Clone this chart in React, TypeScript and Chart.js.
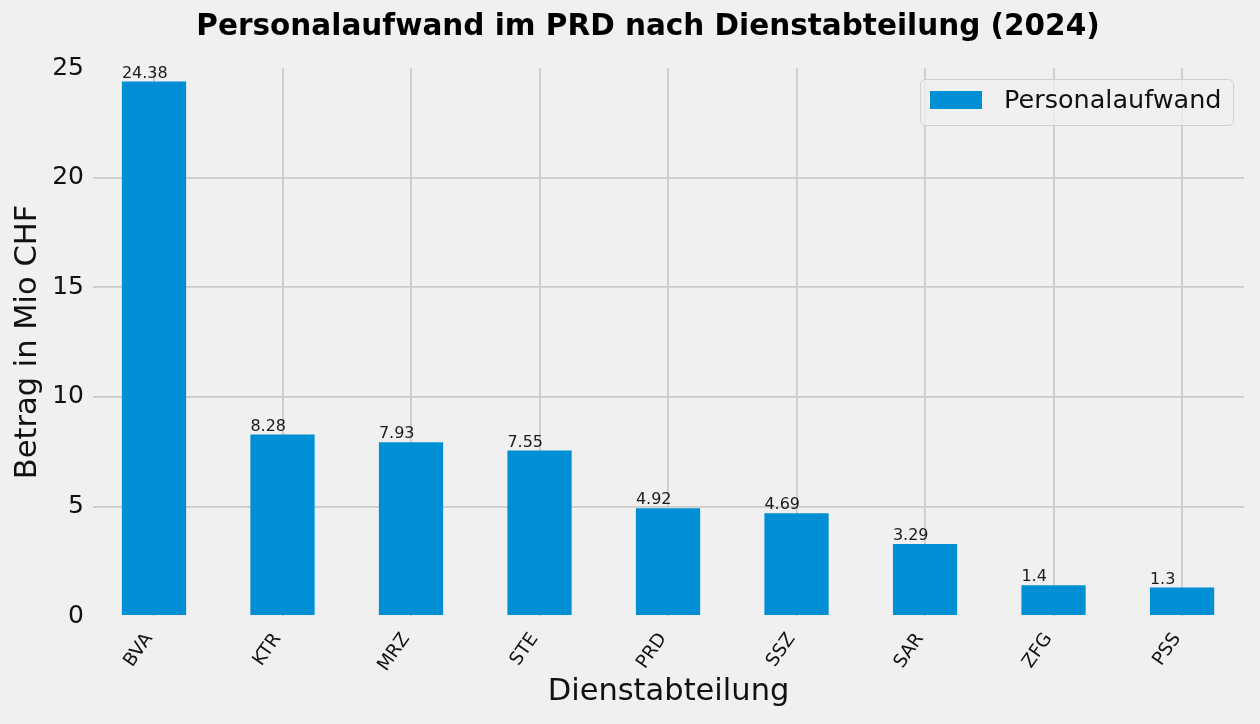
import React, { useEffect, useRef } from 'react';
import { Chart, registerables } from 'chart.js';

Chart.register(...registerables);

const categories = ['BVA', 'KTR', 'MRZ', 'STE', 'PRD', 'SSZ', 'SAR', 'ZFG', 'PSS'];
const values = [24.38, 8.28, 7.93, 7.55, 4.92, 4.69, 3.29, 1.4, 1.3];
const yTicks = [0, 5, 10, 15, 20, 25];
const seriesName = 'Personalaufwand';
const titleText = 'Personalaufwand im PRD nach Dienstabteilung (2024)';
const xTitle = 'Dienstabteilung';
const yTitle = 'Betrag in Mio CHF';

const FONT = '"DejaVu Sans", "Liberation Sans", sans-serif';
const BAR = '#008fd5';
const GRID = '#cbcbcb';
const BG = '#f0f0f0';

const overlay = {
  id: 'overlay',
  afterDatasetsDraw(chart: any) {
    const ctx = chart.ctx;
    const meta = chart.getDatasetMeta(0);
    ctx.save();
    ctx.font = `16px ${FONT}`;
    ctx.fillStyle = '#1a1a1a';
    ctx.textAlign = 'left';
    ctx.textBaseline = 'bottom';
    meta.data.forEach((bar: any, i: number) => {
      const p = bar.getProps(['x', 'y', 'width'], true);
      ctx.fillText(String(values[i]), p.x - p.width / 2, p.y);
    });
    ctx.restore();
  },
  afterDraw(chart: any) {
    const ctx = chart.ctx;
    const area = chart.chartArea;
    ctx.save();
    // title
    ctx.fillStyle = '#000';
    ctx.font = `bold 29.5px ${FONT}`;
    ctx.textAlign = 'center';
    ctx.textBaseline = 'middle';
    ctx.fillText(titleText, 648, 27);
    // x title
    ctx.font = `30.5px ${FONT}`;
    ctx.fillStyle = '#111';
    ctx.fillText(xTitle, (area.left + area.right) / 2, 692);
    // y title
    ctx.save();
    ctx.translate(28, (area.top + area.bottom) / 2);
    ctx.rotate(-Math.PI / 2);
    ctx.fillText(yTitle, 0, 0);
    ctx.restore();
    // legend
    const lx = 920, ly = 79, lw = 313, lh = 46;
    ctx.beginPath();
    (ctx as any).roundRect(lx + 0.5, ly + 0.5, lw, lh, 5);
    ctx.fillStyle = 'rgba(240,240,240,0.8)';
    ctx.fill();
    ctx.strokeStyle = '#d0d0d0';
    ctx.lineWidth = 1;
    ctx.stroke();
    ctx.fillStyle = chart.data.datasets[0].backgroundColor;
    ctx.fillRect(930, 91, 52, 18);
    ctx.fillStyle = '#111';
    ctx.font = `25.5px ${FONT}`;
    ctx.textAlign = 'left';
    ctx.textBaseline = 'middle';
    ctx.fillText(chart.data.datasets[0].label, 1004, 101);
    ctx.restore();
  },
};

export default function App() {
  const ref = useRef<HTMLCanvasElement>(null);
  useEffect(() => {
    if (!ref.current) return;
    const chart = new Chart(ref.current, {
      type: 'bar',
      data: {
        datasets: [
          {
            label: seriesName,
            data: values.map((v, i) => ({ x: i, y: v })),
            backgroundColor: BAR,
            borderWidth: 0,
            barPercentage: 0.5,
            categoryPercentage: 1,
          },
        ],
      },
      options: {
        responsive: false,
        animation: false,
        devicePixelRatio: 1,
        layout: { padding: { top: 68, right: 16, left: 0, bottom: 0 } },
        plugins: {
          legend: { display: false },
          title: { display: false },
          tooltip: { enabled: false },
        },
        scales: {
          x: {
            type: 'linear',
            offset: false,
            min: -0.4747,
            max: 8.482,
            afterBuildTicks: (s: any) => {
              s.ticks = categories.map((_, i) => ({ value: i }));
            },
            afterFit: (s: any) => {
              s.height = 108;
            },
            ticks: {
              autoSkip: false,
              maxRotation: 55,
              minRotation: 55,
              padding: 13,
              labelOffset: -5,
              color: '#111',
              font: { family: FONT, size: 18.5 },
              callback: (_v: any, i: number) => categories[i],
            },
            grid: { color: GRID, lineWidth: 1.8, drawTicks: false, offset: false },
            border: { display: false },
          },
          y: {
            min: 0,
            max: 25,
            afterBuildTicks: (s: any) => {
              s.ticks = yTicks.map((v) => ({ value: v }));
            },
            afterFit: (s: any) => {
              s.width = 93;
            },
            ticks: {
              padding: 9,
              color: '#111',
              font: { family: FONT, size: 25 },
            },
            grid: {
              color: (c: any) =>
                c.tick && (c.tick.value === 25 || c.tick.value === 0) ? 'rgba(0,0,0,0)' : GRID,
              lineWidth: 1.8,
              drawTicks: false,
            },
            border: { display: false },
          },
        },
      },
      plugins: [overlay],
    } as any);
    return () => chart.destroy();
  }, []);
  return (
    <div style={{ position: 'fixed', left: 0, top: 0, width: 1260, height: 724, background: BG }}>
      <canvas ref={ref} width={1260} height={724} style={{ display: 'block', width: 1260, height: 724 }} />
    </div>
  );
}
